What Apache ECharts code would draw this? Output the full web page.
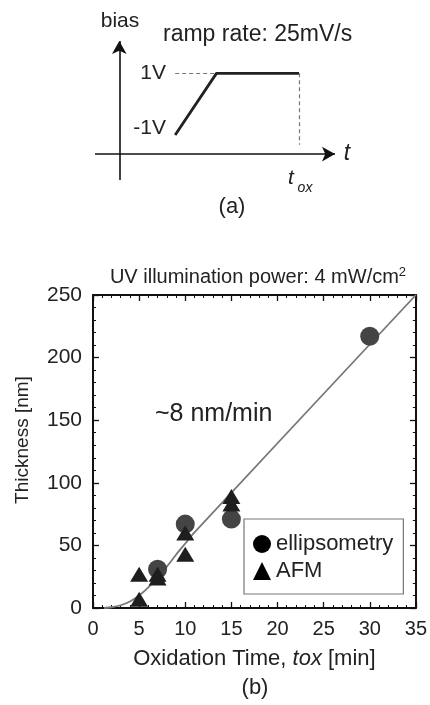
<!DOCTYPE html>
<html><head><meta charset="utf-8">
<script src="https://cdn.jsdelivr.net/npm/echarts@6/dist/echarts.min.js"></script>
<style>html,body{margin:0;padding:0;background:#fff}#c{width:430px;height:705px}</style>
</head><body><div id="c"></div>
<script>
// ---- data (b) ----
const ellipX = [7, 10, 15, 30];
const ellipY = [31, 67, 71, 217];
const afmX = [5, 5, 7, 7, 10, 10, 15, 15];
const afmY = [7, 27, 24, 27, 43, 60, 83, 89];
const fitX = [1.2, 2, 3, 4, 5, 6, 7, 8, 9, 10, 11, 35];
const fitY = [0, 0.6, 2.2, 5.2, 10, 16.5, 24.5, 33, 42.5, 51.5, 60.4, 250];
const xTicks = [0, 5, 10, 15, 20, 25, 30, 35];
const yTicks = [0, 50, 100, 150, 200, 250];
// ---- schematic (a) ----
const rampT = [2.3, 4.0, 7.4];
const rampV = [-1, 1, 1];
const schemT = [-1, 8.88];      // t-axis extent
const schemV = [-2.46, 2.05];   // bias-axis extent
const tAxisLevel = -1.62;
const dashBottom = -1.32;

const FONT = 'Liberation Sans, Arial, sans-serif';
const TXT = '#222';
const AX = '#111';

function pairs(xs, ys) { return xs.map((x, i) => [x, ys[i]]); }

const chart = echarts.init(document.getElementById('c'), null, {renderer: 'canvas'});

const xMin = xTicks[0], xMax = xTicks[xTicks.length - 1], xInt = xTicks[1] - xTicks[0];
const yMin = yTicks[0], yMax = yTicks[yTicks.length - 1], yInt = yTicks[1] - yTicks[0];

function mainX(pos, labels) {
  return {
    gridIndex: 0, type: 'value', position: pos, min: xMin, max: xMax, interval: xInt,
    axisLine: {show: true, onZero: false, lineStyle: {color: AX, width: 2}},
    axisTick: {show: true, inside: true, length: 6, lineStyle: {color: AX, width: 1.3}},
    minorTick: {show: true, splitNumber: 5, length: 3, lineStyle: {color: AX, width: 1}},
    splitLine: {show: false},
    axisLabel: {show: labels, fontSize: 20, color: TXT, fontFamily: FONT, margin: 11},
  };
}
function mainY(pos, labels) {
  return {
    gridIndex: 0, type: 'value', position: pos, min: yMin, max: yMax, interval: yInt,
    axisLine: {show: true, onZero: false, lineStyle: {color: AX, width: 2}},
    axisTick: {show: true, inside: true, length: 6, lineStyle: {color: AX, width: 1.3}},
    minorTick: {show: true, splitNumber: 5, length: 3, lineStyle: {color: AX, width: 1}},
    splitLine: {show: false},
    axisLabel: {show: labels, fontSize: 21, color: TXT, fontFamily: FONT, margin: 11},
  };
}

const xb = mainX('bottom', true);
xb.name = 'Oxidation Time, {i|tox} [min]';
xb.nameLocation = 'middle';
xb.nameGap = 40;
xb.nameTextStyle = {fontSize: 22, color: TXT, fontFamily: FONT,
  rich: {i: {fontStyle: 'italic', fontSize: 22, color: TXT, fontFamily: FONT}}};

const option = {
  animation: false,
  backgroundColor: '#fff',
  grid: [
    {left: 93, right: 13, top: 295, bottom: 97},
    {left: 95, right: 95, top: 41, bottom: 525}
  ],
  xAxis: [
    xb, mainX('top', false),
    {gridIndex: 1, type: 'value', min: schemT[0], max: schemT[1], show: false}
  ],
  yAxis: [
    mainY('left', true), mainY('right', false),
    {gridIndex: 1, type: 'value', min: schemV[0], max: schemV[1], show: false}
  ],
  legend: {
    orient: 'vertical', left: 244, top: 519,
    padding: [14, 10, 12, 9],
    itemGap: 5, itemWidth: 18, itemHeight: 18,
    borderColor: '#777', borderWidth: 1.2, borderRadius: 0,
    textStyle: {fontSize: 22, color: TXT, fontFamily: FONT},
    data: [
      {name: 'ellipsometry', icon: 'circle', itemStyle: {color: '#000'}},
      {name: 'AFM', icon: 'triangle', itemStyle: {color: '#000'}}
    ]
  },
  title: {
    text: 'UV illumination power: 4 mW/cm{s|2}',
    left: 253, top: 261, textAlign: 'center',
    textStyle: {fontSize: 20, fontWeight: 'normal', color: TXT, fontFamily: FONT,
      rich: {s: {fontSize: 13, color: TXT, fontFamily: FONT, verticalAlign: 'top', padding: [0, 0, 9, 0]}}}
  },
  graphic: [
    {type: 'text', x: 23, y: 440, rotation: Math.PI / 2,
      style: {text: 'Thickness [nm]', fill: TXT, font: '19px ' + FONT, align: 'center', verticalAlign: 'middle'}},
    {type: 'text', x: 155, y: 414, style: {text: '~8 nm/min', fill: TXT, font: '25px ' + FONT, align: 'left', verticalAlign: 'middle'}},
    {type: 'text', x: 255, y: 688, style: {text: '(b)', fill: TXT, font: '22px ' + FONT, align: 'center', verticalAlign: 'middle'}},
    {type: 'text', x: 232, y: 207, style: {text: '(a)', fill: TXT, font: '22px ' + FONT, align: 'center', verticalAlign: 'middle'}},
    {type: 'text', x: 120, y: 21, style: {text: 'bias', fill: TXT, font: '21px ' + FONT, align: 'center', verticalAlign: 'middle'}},
    {type: 'text', x: 163, y: 35, style: {text: 'ramp rate: 25mV/s', fill: TXT, font: '23px ' + FONT, align: 'left', verticalAlign: 'middle'}},
    {type: 'text', x: 166, y: 73, style: {text: '1V', fill: TXT, font: '21px ' + FONT, align: 'right', verticalAlign: 'middle'}},
    {type: 'text', x: 166, y: 128, style: {text: '-1V', fill: TXT, font: '21px ' + FONT, align: 'right', verticalAlign: 'middle'}},
    {type: 'text', x: 347, y: 154, style: {text: 't', fill: TXT, font: 'italic 23px ' + FONT, align: 'center', verticalAlign: 'middle'}},
    {type: 'text', x: 291, y: 178, style: {text: 't', fill: TXT, font: 'italic 21px ' + FONT, align: 'center', verticalAlign: 'middle'}},
    {type: 'text', x: 305, y: 188, style: {text: 'ox', fill: TXT, font: 'italic 14px ' + FONT, align: 'center', verticalAlign: 'middle'}}
  ],
  series: [
    {
      name: 'fit', type: 'line', xAxisIndex: 0, yAxisIndex: 0,
      data: pairs(fitX, fitY), showSymbol: false, symbol: 'none', smooth: 0.3,
      lineStyle: {color: '#777', width: 1.8}, z: 2, silent: true
    },
    {
      name: 'ellipsometry', type: 'scatter', xAxisIndex: 0, yAxisIndex: 0,
      data: pairs(ellipX, ellipY), symbol: 'circle', symbolSize: 19,
      itemStyle: {color: '#444', opacity: 1}, z: 3
    },
    {
      name: 'AFM', type: 'scatter', xAxisIndex: 0, yAxisIndex: 0,
      data: pairs(afmX, afmY), symbol: 'triangle', symbolSize: [18, 15],
      itemStyle: {color: '#1e1e1e', opacity: 1}, z: 4
    },
    {
      name: 'ramp', type: 'line', xAxisIndex: 2, yAxisIndex: 2,
      data: pairs(rampT, rampV), symbol: 'none', showSymbol: false,
      lineStyle: {color: '#222', width: 2.8}, silent: true,
      markLine: {
        silent: true, animation: false, label: {show: false},
        symbol: ['none', 'none'],
        data: [
          [{coord: [schemT[0], tAxisLevel], symbol: 'none'},
           {coord: [schemT[1], tAxisLevel], symbol: 'arrow', symbolSize: [11, 13]}],
          [{coord: [0, schemV[0]], symbol: 'none'},
           {coord: [0, schemV[1]], symbol: 'arrow', symbolSize: [11, 13]}],
          [{coord: [rampT[0], rampV[1]], lineStyle: {type: [4, 3], color: '#777', width: 1.2}},
           {coord: [rampT[1], rampV[1]]}],
          [{coord: [rampT[2], rampV[2]], lineStyle: {type: [4, 3], color: '#777', width: 1.2}},
           {coord: [rampT[2], dashBottom]}]
        ],
        lineStyle: {color: '#111', width: 1.6, type: 'solid'}
      }
    }
  ]
};
chart.setOption(option);
</script>
</body></html>
